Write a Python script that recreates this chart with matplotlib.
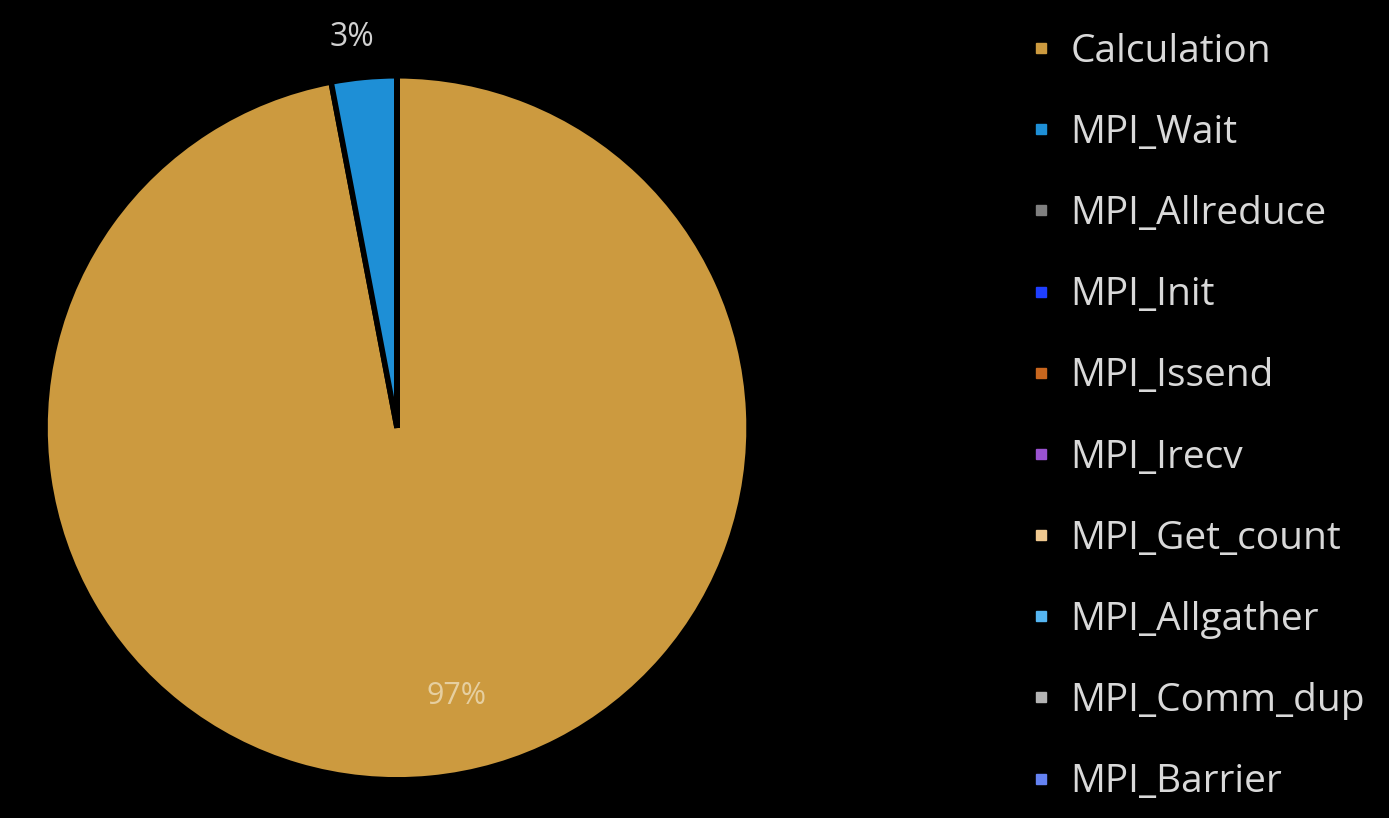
import numpy as np
import matplotlib.pyplot as plt
from matplotlib.lines import Line2D

plt.rcParams['font.family'] = ['Open Sans', 'DejaVu Sans']

# données
categories = ["Calculation", "MPI_Wait", "MPI_Allreduce", "MPI_Init", "MPI_Issend",
              "MPI_Irecv", "MPI_Get_count", "MPI_Allgather", "MPI_Comm_dup", "MPI_Barrier"]
shares = [97, 3, 0, 0, 0, 0, 0, 0, 0, 0]
colors = ["#CC9A3F", "#1E8FD6", "#7F7F7F", "#1F3FFF", "#C8661E",
          "#9A52D0", "#F0C990", "#55B6F2", "#B4B4B4", "#6482F2"]

fig = plt.figure(figsize=(13.89, 8.18), dpi=100, facecolor="black")
ax = fig.add_axes([0.0324, 0.0465, 0.5069, 0.861])
ax.set_facecolor("black")

wedges, texts, pcts = ax.pie(shares, colors=colors, startangle=90, counterclock=False,
                             autopct=lambda p: f"{p:.0f}%" if p > 0.5 else "",
                             pctdistance=0.78,
                             wedgeprops=dict(edgecolor="black", linewidth=4))

# placement des étiquettes
for w, t in zip(wedges, pcts):
    if not t.get_text():
        continue
    ang = np.deg2rad((w.theta1 + w.theta2) / 2)
    if w.theta2 - w.theta1 < 30:
        r = 1.115
        ang += np.deg2rad(1.2)
        t.set_color("#D0D0D0")
        t.set_fontsize(23)
    else:
        r = 0.78
        ang += np.deg2rad(7)
        t.set_color("#E6CFA0")
        t.set_fontsize(22)
    t.set_position((r * np.cos(ang), r * np.sin(ang)))
ax.set_xlim(-1, 1)
ax.set_ylim(-1, 1)
ax.set_aspect("equal")

handles = [Line2D([], [], marker="s", linestyle="none", markersize=7.5,
                  markerfacecolor=c, markeredgecolor=c) for c in colors]
leg = fig.legend(handles, categories, loc="upper left", bbox_to_anchor=(0.719, 0.998),
                 frameon=False, fontsize=28, labelcolor="#D9D9D9",
                 handlelength=0.6, handletextpad=0.45, labelspacing=1.11,
                 borderaxespad=0.4)

plt.savefig("out.png", facecolor="black")
